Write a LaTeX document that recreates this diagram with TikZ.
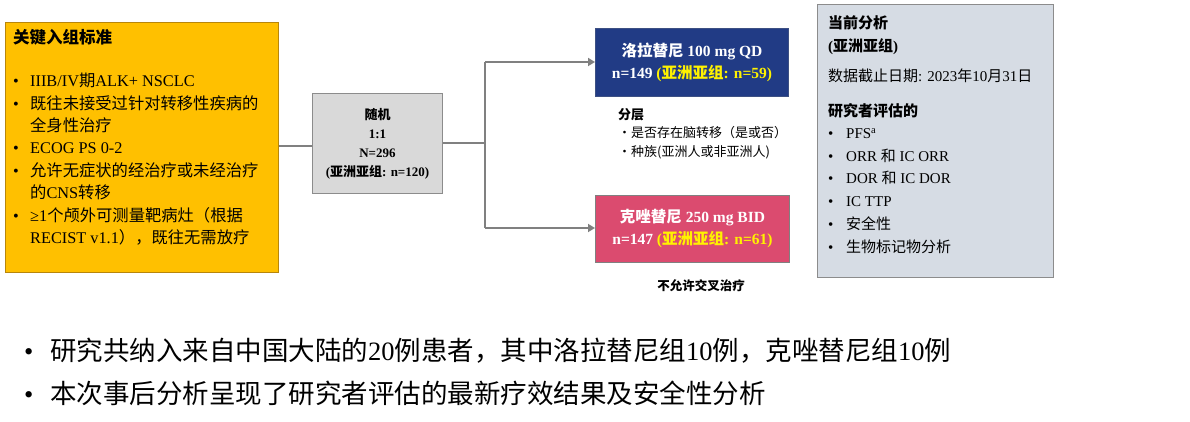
\documentclass[tikz,border=0pt]{standalone}
\usepackage{fontspec}
\setmainfont{Liberation Serif}
\newfontfamily\cjk{Noto Sans CJK SC}
\usetikzlibrary{arrows.meta}
\definecolor{ylw}{HTML}{FFC000}
\definecolor{ylwb}{HTML}{B8860B}
\definecolor{grayf}{HTML}{D9D9D9}
\definecolor{grayb}{HTML}{8C8C8C}
\definecolor{bluef}{HTML}{213B85}
\definecolor{redf}{HTML}{DB4B6F}
\definecolor{rightf}{HTML}{D6DCE4}
\definecolor{lnc}{HTML}{808080}
\newcommand{\C}[1]{{\cjk #1}}
\newcommand{\hl}[1]{\textcolor{yellow}{#1}}
\begin{document}
\begin{tikzpicture}[x=1pt,y=-1pt,
  box/.style={draw, line width=1pt, inner sep=0pt},
  conn/.style={draw=lnc, line width=2pt},
  arr/.style={conn, -{Triangle[length=7pt,width=8pt]}},
  txt/.style={inner sep=0pt, anchor=north west, align=left}]
\useasboundingbox (0,0) rectangle (1190,422);
\node[box, fill=ylw, draw=ylwb, minimum width=273pt, minimum height=250pt, anchor=north west] (crit) at (5,22) {};
\node[txt, font=\fontsize{16.5}{18}\selectfont] (critt) at (13,29) {\C{\bfseries 关键入组标准}};
\node[txt, font=\fontsize{16.3}{22.4}\selectfont] (critl) at (13,73) {%
\begin{minipage}{260pt}\setlength{\parindent}{0pt}%
\makebox[17pt][l]{•}IIIB/IV\C{期}ALK+ NSCLC\par
\makebox[17pt][l]{•}\C{既往未接受过针对转移性疾病的}\par\hspace*{17pt}\C{全身性治疗}\par
\makebox[17pt][l]{•}ECOG PS 0-2\par
\makebox[17pt][l]{•}\C{允许无症状的经治疗或未经治疗}\par\hspace*{17pt}\C{的}CNS\C{转移}\par
\makebox[17pt][l]{•}≥1\C{个颅外可测量靶病灶（根据}\par\hspace*{17pt}RECIST v1.1\C{），既往无需放疗}\par
\end{minipage}};
\node[box, fill=grayf, draw=grayb, minimum width=130pt, minimum height=100pt, anchor=north west] (rand) at (312,93) {};
\node[align=center, font=\bfseries\fontsize{13}{19}\selectfont] (randt) at (rand.center) {\C{随机}\\1:1\\N=296\\(\C{亚洲亚组}: n=120)};
\node[box, fill=bluef, draw=bluef!70!gray, minimum width=193pt, minimum height=68pt, anchor=north west] (lor) at (595,28) {};
\node[align=center, text=white, font=\bfseries\fontsize{15.5}{22}\selectfont] (lort) at (lor.center) {\C{洛拉替尼} 100 mg QD\\n=149 \hl{(\C{亚洲亚组}: n=59)}};
\node[box, fill=redf, draw=gray, minimum width=194pt, minimum height=67pt, anchor=north west] (cri) at (595,195) {};
\node[align=center, text=white, font=\bfseries\fontsize{15.5}{22}\selectfont] (crit2) at (cri.center) {\C{克唑替尼} 250 mg BID\\n=147 \hl{(\C{亚洲亚组}: n=61)}};
\coordinate (sp) at (485,143);
\coordinate (spt) at (485,62);
\coordinate (spb) at (485,228);
\draw[conn] (crit.east |- 0,146) -- (rand.west |- 0,146);
\draw[conn] (rand.east |- sp) -- (sp);
\draw[conn] (spt) -- (spb);
\draw[arr] (spt) -- (lor.west |- spt);
\draw[arr] (spb) -- (cri.west |- spb);
\node[txt, font=\fontsize{13}{19}\selectfont] (strat) at (618,108) {\C{\bfseries 分层}\\[-1pt]\C{•是否存在脑转移（是或否）}\\\C{•种族(亚洲人或非亚洲人)}};
\node[font=\bfseries\fontsize{12.5}{15}\selectfont] (nox) at (701,286) {\C{不允许交叉治疗}};
\node[box, fill=rightf, draw=grayb, minimum width=236pt, minimum height=273pt, anchor=north west] (ana) at (817,4) {};
\node[txt, font=\fontsize{15}{23}\selectfont] (anat) at (828,15) {\C{\bfseries 当前分析}\\\textbf{(\C{亚洲亚组})}\\[7pt]\C{数据截止日期}: 2023\C{年}10\C{月}31\C{日}\\[12pt]\C{\bfseries 研究者评估的}};
\node[txt, font=\fontsize{15}{22.8}\selectfont] (anal) at (828,128) {%
\makebox[18pt][l]{•}PFS\textsuperscript{a}\\
\makebox[18pt][l]{•}ORR \C{和} IC ORR\\
\makebox[18pt][l]{•}DOR \C{和} IC DOR\\
\makebox[18pt][l]{•}IC TTP\\
\makebox[18pt][l]{•}\C{安全性}\\
\makebox[18pt][l]{•}\C{生物标记物分析}};
\node[txt, font=\fontsize{26.5}{43}\selectfont] (bot) at (24,338) {%
\makebox[26pt][l]{•}\C{研究共纳入来自中国大陆的}20\C{例患者，其中洛拉替尼组}10\C{例，克唑替尼组}10\C{例}\\
\makebox[26pt][l]{•}\C{本次事后分析呈现了研究者评估的最新疗效结果及安全性分析}};
\end{tikzpicture}
\end{document}
